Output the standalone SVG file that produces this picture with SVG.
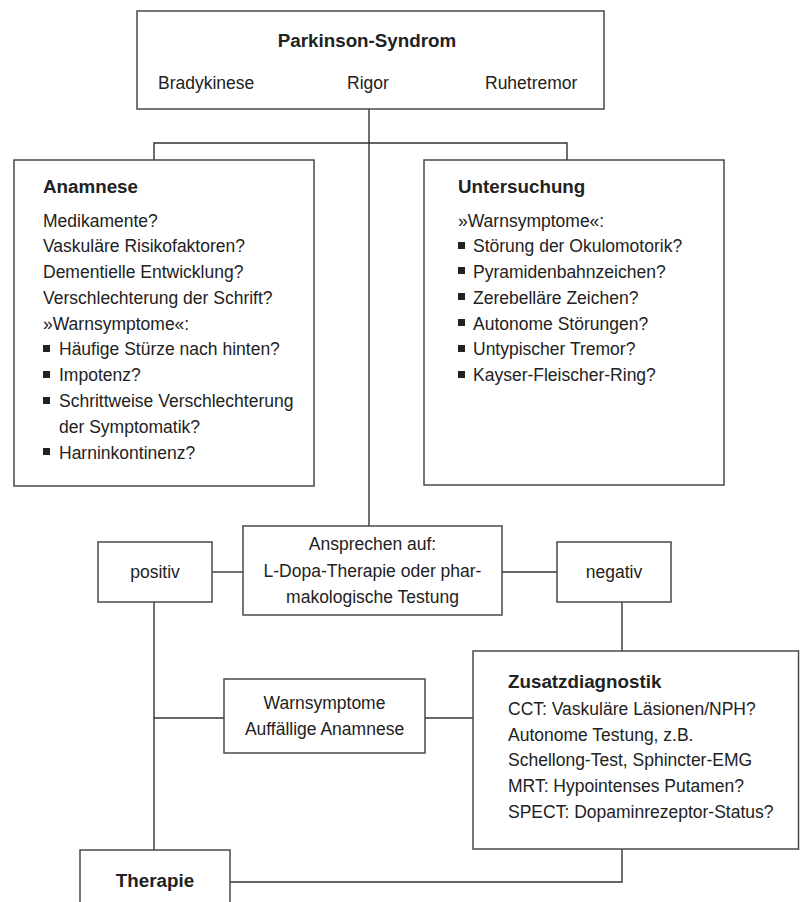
<svg xmlns="http://www.w3.org/2000/svg" width="800" height="902" viewBox="0 0 800 902">
<style>
.box{fill:#fff;stroke:#4a4a4a;stroke-width:1.5}
.ln{fill:none;stroke:#333;stroke-width:1.4}
text{font-family:"Liberation Sans",Arial,sans-serif;font-size:17.5px;fill:#222}
.b{font-weight:bold;font-size:18.8px}
.c{text-anchor:middle}
.bul{fill:#222}
</style>
<rect width="800" height="902" fill="#fff"/>
<g id="connectors">
<path class="ln" d="M369,109 V526"/>
<path class="ln" d="M154,160 V143 H567 V160"/>
<path class="ln" d="M212,572 H243"/>
<path class="ln" d="M502,572 H557"/>
<path class="ln" d="M154,602 V850"/>
<path class="ln" d="M154,718 H224"/>
<path class="ln" d="M425,718 H473"/>
<path class="ln" d="M622,602 V651"/>
<path class="ln" d="M622,849 V882 H230"/>
</g>
<g id="parkinson">
<rect class="box" x="137" y="11" width="467" height="98"/>
<text class="b c" x="367" y="47">Parkinson-Syndrom</text>
<text x="158" y="89">Bradykinese</text>
<text class="c" x="368" y="89">Rigor</text>
<text x="485" y="89">Ruhetremor</text>
</g>
<g id="anamnese">
<rect class="box" x="14" y="160" width="300" height="326"/>
<text class="b" x="43" y="193">Anamnese</text>
<text x="43" y="226.5">Medikamente?</text>
<text x="43" y="252.3">Vaskuläre Risikofaktoren?</text>
<text x="43" y="278">Dementielle Entwicklung?</text>
<text x="43" y="303.8">Verschlechterung der Schrift?</text>
<text x="43" y="329.6">»Warnsymptome«:</text>
<rect class="bul" x="43" y="345" width="7" height="7"/>
<text x="59" y="355.4">Häufige Stürze nach hinten?</text>
<rect class="bul" x="43" y="371" width="7" height="7"/>
<text x="59" y="381.2">Impotenz?</text>
<rect class="bul" x="43" y="397" width="7" height="7"/>
<text x="59" y="407">Schrittweise Verschlechterung</text>
<text x="59" y="432.8">der Symptomatik?</text>
<rect class="bul" x="43" y="448" width="7" height="7"/>
<text x="59" y="458.6">Harninkontinenz?</text>
</g>
<g id="untersuchung">
<rect class="box" x="424" y="160" width="300" height="325"/>
<text class="b" x="458" y="193">Untersuchung</text>
<text x="458" y="226.5">»Warnsymptome«:</text>
<rect class="bul" x="458" y="242" width="7" height="7"/>
<text x="473" y="252.3">Störung der Okulomotorik?</text>
<rect class="bul" x="458" y="267" width="7" height="7"/>
<text x="473" y="278">Pyramidenbahnzeichen?</text>
<rect class="bul" x="458" y="293" width="7" height="7"/>
<text x="473" y="303.8">Zerebelläre Zeichen?</text>
<rect class="bul" x="458" y="319" width="7" height="7"/>
<text x="473" y="329.6">Autonome Störungen?</text>
<rect class="bul" x="458" y="345" width="7" height="7"/>
<text x="473" y="355.4">Untypischer Tremor?</text>
<rect class="bul" x="458" y="371" width="7" height="7"/>
<text x="473" y="381.2">Kayser-Fleischer-Ring?</text>
</g>
<g id="ansprechen">
<rect class="box" x="243" y="526" width="259" height="89"/>
<text class="c" x="372.5" y="550">Ansprechen auf:</text>
<text class="c" x="372.5" y="577">L-Dopa-Therapie oder phar-</text>
<text class="c" x="372.5" y="603">makologische Testung</text>
</g>
<g id="positiv">
<rect class="box" x="98" y="542" width="114" height="60"/>
<text class="c" x="155" y="578">positiv</text>
</g>
<g id="negativ">
<rect class="box" x="557" y="542" width="114" height="60"/>
<text class="c" x="614" y="578">negativ</text>
</g>
<g id="warnsymptome">
<rect class="box" x="224" y="679" width="201" height="74"/>
<text class="c" x="324.5" y="709">Warnsymptome</text>
<text class="c" x="324.5" y="735">Auffällige Anamnese</text>
</g>
<g id="zusatzdiagnostik">
<rect class="box" x="473" y="651" width="325.5" height="198"/>
<text class="b" x="508" y="688">Zusatzdiagnostik</text>
<text x="508" y="715">CCT: Vaskuläre Läsionen/NPH?</text>
<text x="508" y="740.7">Autonome Testung, z.B.</text>
<text x="508" y="766.4">Schellong-Test, Sphincter-EMG</text>
<text x="508" y="792">MRT: Hypointenses Putamen?</text>
<text x="508" y="817.7">SPECT: Dopaminrezeptor-Status?</text>
</g>
<g id="therapie">
<rect class="box" x="80" y="850" width="150" height="60"/>
<text class="b c" x="155" y="887">Therapie</text>
</g>
</svg>
